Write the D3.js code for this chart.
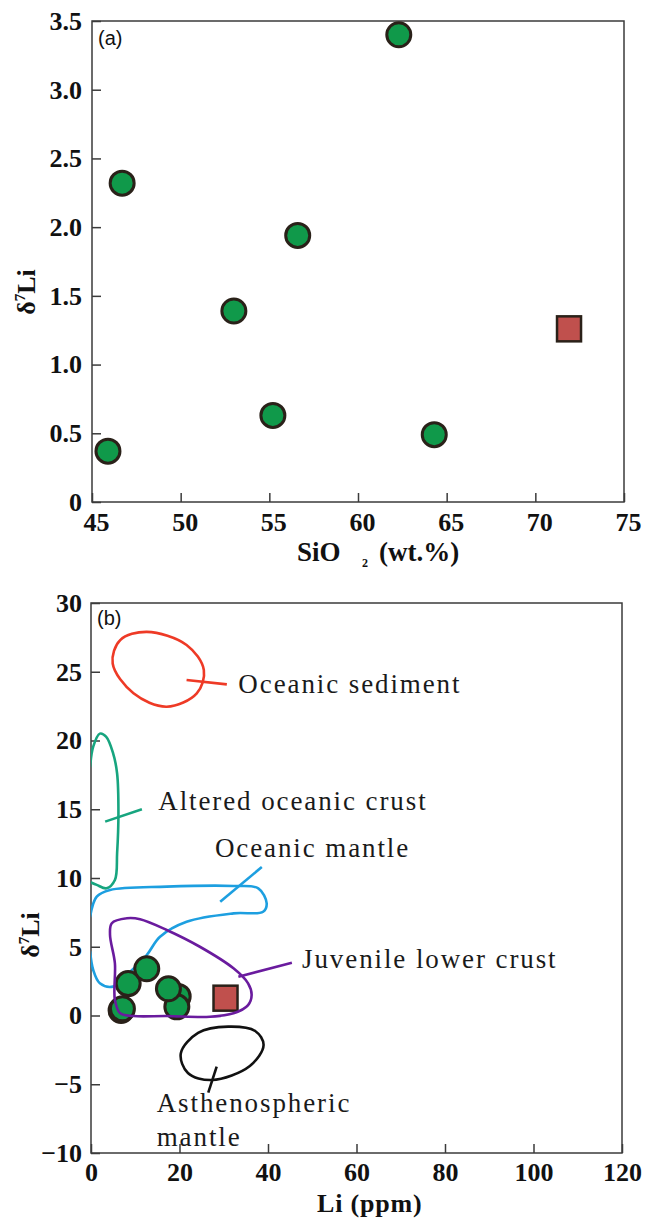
<!DOCTYPE html>
<html>
<head>
<meta charset="utf-8">
<script src="https://cdn.jsdelivr.net/npm/d3@7/dist/d3.min.js"></script>
<style>
  html, body { margin: 0; padding: 0; background: #ffffff; }
  svg { display: block; }
</style>
</head>
<body>
<script>
// ---- Sample data: mafic–intermediate rocks (circles) and granite (square) ----
const sampleSiO2 = [45.9, 46.7, 53.0, 55.2, 56.6, 62.3, 64.3];
const sampleD7Li = [0.37, 2.32, 1.39, 0.63, 1.94, 3.40, 0.49];
const sampleLi   = [6.8, 8.4, 19.7, 19.4, 17.5, 12.6, 7.1];

const graniteSiO2 = [71.9];
const graniteD7Li = [1.26];
const graniteLi   = [30.4];

// ---- Axis ticks ----
const sio2Ticks = [45, 50, 55, 60, 65, 70, 75];
const d7LiTicksA = [0, 0.5, 1.0, 1.5, 2.0, 2.5, 3.0, 3.5];
const liTicks = [0, 20, 40, 60, 80, 100, 120];
const d7LiTicksB = [-10, -5, 0, 5, 10, 15, 20, 25, 30];

// ---- Reservoir fields in Li (ppm) – δ7Li space ----
const sedimentOutline = [[12.6, 27.9], [21.6, 26.95], [25.5, 25.13], [23.9, 23.43], [17.1, 22.46], [9.6, 23.43], [4.9, 25.6], [6.6, 27.3]];
const alteredCrustOutline = [[-0.2, 18.1], [0.5, 19.55], [2.0, 20.5], [3.4, 20.28], [5.0, 19.07], [5.9, 17.6], [6.2, 14.7], [5.9, 11.8], [5.4, 9.85], [3.5, 9.25], [1.3, 9.5], [-0.2, 9.7]];
const oceanicMantleOutline = [[-0.2, 7.19], [1.3, 8.64], [4.3, 9.13], [17.1, 9.37], [32.2, 9.42], [37.8, 9.25], [39.7, 8.16], [38.9, 7.55], [32.2, 7.43], [21.6, 6.82], [15.6, 5.73], [12.6, 4.4], [8.8, 3.16], [5.0, 2.1], [2.0, 2.34], [0.5, 3.31], [-0.2, 4.64]];
const juvenileCrustOutline = [[4.7, 6.71], [8.1, 7.07], [11.1, 7.0], [17.1, 6.22], [24.6, 5.0], [32.2, 3.43], [35.5, 2.34], [36.3, 1.49], [35.5, 0.76], [32.2, 0.16], [26.9, -0.09], [17.1, -0.04], [9.6, -0.04], [6.6, 0.16], [5.4, 1.13], [5.4, 3.8], [4.3, 5.85]];
const asthenosphereOutline = [[31.0, -0.81], [37.1, -1.13], [39.0, -2.15], [35.9, -3.67], [27.3, -4.69], [21.9, -4.18], [20.3, -2.75], [24.2, -1.27]];

// Leader lines from each field to its label
const sedimentLeader = [[21.6, 24.4], [30.7, 24.08]];
const alteredCrustLeader = [[3.2, 14.1], [11.5, 15.0]];
const oceanicMantleLeader = [[29.2, 8.28], [38.6, 10.8]];
const juvenileCrustLeader = [[33.3, 2.82], [45.4, 3.84]];
const asthenosphereLeader = [[28.4, -3.72], [26.5, -5.61]];

// Field label texts and anchor points (data units)
const fieldNames = ["Oceanic sediment", "Altered oceanic crust", "Oceanic mantle", "Juvenile lower crust", "Asthenospheric", "mantle"];
const fieldLabelLi = [33.3, 15.2, 28.0, 47.7, 14.85, 14.85];
const fieldLabelD7Li = [23.45, 14.95, 11.53, 3.45, -7.0, -9.49];

// ---- Styling ----
const FRAME = "#3b3b3b";
const GREEN = "#10994a";
const SQUARE = "#c0504d";
const EDGE = "#2a2119";
const SERIF = "'Liberation Serif', 'Times New Roman', serif";
const SANS = "'Liberation Sans', Arial, sans-serif";

const svg = d3.select("body").append("svg")
  .attr("width", 656).attr("height", 1218)
  .attr("viewBox", "0 0 656 1218");

// ================= Panel (a): δ7Li vs SiO2 =================
const xA = d3.scaleLinear().domain([45, 75]).range([92, 624]);
const yA = d3.scaleLinear().domain([0, 3.5]).range([502, 21]);

const gA = svg.append("g");

gA.append("rect")
  .attr("x", xA(45)).attr("y", yA(3.5))
  .attr("width", xA(75) - xA(45)).attr("height", yA(0) - yA(3.5))
  .attr("fill", "none").attr("stroke", FRAME).attr("stroke-width", 1.5);

const axA_x = gA.append("g").attr("transform", `translate(0,${yA(0)})`)
  .call(d3.axisBottom(xA).tickValues(sio2Ticks).tickSizeInner(-9).tickSizeOuter(0).tickPadding(11).tickFormat(d3.format("d")));
const axA_y = gA.append("g").attr("transform", `translate(${xA(45)},0)`)
  .call(d3.axisLeft(yA).tickValues(d7LiTicksA).tickSizeInner(-9).tickSizeOuter(0).tickPadding(10)
    .tickFormat(d => d === 0 ? "0" : d.toFixed(1)));

[axA_x, axA_y].forEach(ax => {
  ax.select(".domain").remove();
  ax.selectAll(".tick line").attr("stroke", FRAME).attr("stroke-width", 1.5);
  ax.selectAll(".tick text")
    .attr("fill", "#111").attr("font-family", SERIF).attr("font-weight", "bold").attr("font-size", 26);
});
axA_x.selectAll(".tick text").attr("dx", 4);

gA.append("text").attr("x", xA(45) + 6).attr("y", yA(3.5) + 24)
  .attr("font-family", SANS).attr("font-size", 20).attr("fill", "#111").text("(a)");

// x-axis title with subscript
const titleA = gA.append("text").attr("y", 561)
  .attr("font-family", SERIF).attr("font-weight", "bold").attr("font-size", 27).attr("fill", "#111");
titleA.append("tspan").attr("x", 297).text("SiO");
titleA.append("tspan").attr("x", 362).attr("dy", 6).attr("font-size", 12).text("2");
titleA.append("tspan").attr("x", 379).attr("dy", -6).text("(wt.%)");

function d7LiTitle(g, x, y) {
  const t = g.append("text")
    .attr("transform", `translate(${x},${y}) rotate(-90)`)
    .attr("text-anchor", "middle")
    .attr("font-family", SERIF).attr("font-weight", "bold").attr("font-size", 26).attr("fill", "#111");
  t.append("tspan").text("δ");
  t.append("tspan").attr("dy", -10).attr("font-size", 15).text("7");
  t.append("tspan").attr("dy", 10).text("Li");
}
d7LiTitle(gA, 35, 292);

// samples
gA.selectAll("circle.sample").data(d3.range(sampleSiO2.length)).join("circle")
  .attr("class", "sample")
  .attr("cx", i => xA(sampleSiO2[i])).attr("cy", i => yA(sampleD7Li[i]))
  .attr("r", 12).attr("fill", GREEN).attr("stroke", EDGE).attr("stroke-width", 3);

gA.selectAll("rect.granite").data(d3.range(graniteSiO2.length)).join("rect")
  .attr("class", "granite")
  .attr("x", i => xA(graniteSiO2[i]) - 12).attr("y", i => yA(graniteD7Li[i]) - 12.5)
  .attr("width", 24).attr("height", 25)
  .attr("fill", SQUARE).attr("stroke", EDGE).attr("stroke-width", 2.5);

// ================= Panel (b): δ7Li vs Li =================
const xB = d3.scaleLinear().domain([0, 120]).range([91, 622]);
const yB = d3.scaleLinear().domain([-10, 30]).range([1153, 603]);

const gB = svg.append("g");

gB.append("clipPath").attr("id", "clipB").append("rect")
  .attr("x", xB(0)).attr("y", yB(30)).attr("width", xB(120) - xB(0)).attr("height", yB(-10) - yB(30));

gB.append("rect")
  .attr("x", xB(0)).attr("y", yB(30))
  .attr("width", xB(120) - xB(0)).attr("height", yB(-10) - yB(30))
  .attr("fill", "none").attr("stroke", FRAME).attr("stroke-width", 1.5);

const axB_x = gB.append("g").attr("transform", `translate(0,${yB(-10)})`)
  .call(d3.axisBottom(xB).tickValues(liTicks).tickSizeInner(-9).tickSizeOuter(0).tickPadding(10).tickFormat(d3.format("d")));
const axB_y = gB.append("g").attr("transform", `translate(${xB(0)},0)`)
  .call(d3.axisLeft(yB).tickValues(d7LiTicksB).tickSizeInner(-9).tickSizeOuter(0).tickPadding(9).tickFormat(d3.format("d")));

[axB_x, axB_y].forEach(ax => {
  ax.select(".domain").remove();
  ax.selectAll(".tick line").attr("stroke", FRAME).attr("stroke-width", 1.5);
  ax.selectAll(".tick text")
    .attr("fill", "#111").attr("font-family", SERIF).attr("font-weight", "bold").attr("font-size", 26);
});

gB.append("text").attr("x", xB(0) + 6).attr("y", yB(30) + 22)
  .attr("font-family", SANS).attr("font-size", 20).attr("fill", "#111").text("(b)");

gB.append("text").attr("x", 317).attr("y", 1212)
  .attr("font-family", SERIF).attr("font-weight", "bold").attr("font-size", 26)
  .attr("letter-spacing", 0.8).attr("fill", "#111").text("Li (ppm)");

d7LiTitle(gB, 39, 935);

const fieldLine = d3.line().x(d => xB(d[0])).y(d => yB(d[1]));
const closedField = d3.line().x(d => xB(d[0])).y(d => yB(d[1])).curve(d3.curveCatmullRomClosed.alpha(0.5));
const openField = d3.line().x(d => xB(d[0])).y(d => yB(d[1])).curve(d3.curveCatmullRom.alpha(0.5));

const fieldsLayer = gB.append("g").attr("clip-path", "url(#clipB)").attr("fill", "none")
  .attr("stroke-width", 2.6).attr("stroke-linejoin", "round").attr("stroke-linecap", "round");

function drawField(layer, outline, leader, color, closed) {
  layer.append("path").attr("d", (closed ? closedField : openField)(outline)).attr("stroke", color);
  layer.append("path").attr("d", fieldLine(leader)).attr("stroke", color).attr("stroke-linecap", "butt");
}

drawField(fieldsLayer, sedimentOutline, sedimentLeader, "#ee3a26", true);
drawField(fieldsLayer, alteredCrustOutline, alteredCrustLeader, "#17a57f", false);
drawField(fieldsLayer, oceanicMantleOutline, oceanicMantleLeader, "#1d9fe0", false);
drawField(fieldsLayer, asthenosphereOutline, asthenosphereLeader, "#111111", true);

// samples on top of the mantle fields
gB.selectAll("circle.sample").data(d3.range(sampleLi.length)).join("circle")
  .attr("class", "sample")
  .attr("cx", i => xB(sampleLi[i])).attr("cy", i => yB(sampleD7Li[i]))
  .attr("r", 12).attr("fill", GREEN).attr("stroke", EDGE).attr("stroke-width", 3);

gB.selectAll("rect.granite").data(d3.range(graniteLi.length)).join("rect")
  .attr("class", "granite")
  .attr("x", i => xB(graniteLi[i]) - 12).attr("y", i => yB(graniteD7Li[i]) - 12.5)
  .attr("width", 24).attr("height", 25)
  .attr("fill", SQUARE).attr("stroke", EDGE).attr("stroke-width", 2.5);

// juvenile lower crust outline drawn over the samples
const topLayer = gB.append("g").attr("clip-path", "url(#clipB)").attr("fill", "none")
  .attr("stroke-width", 2.6).attr("stroke-linejoin", "round").attr("stroke-linecap", "round");
drawField(topLayer, juvenileCrustOutline, juvenileCrustLeader, "#6a1b9e", true);

// field labels
gB.selectAll("text.field").data(d3.range(fieldNames.length)).join("text")
  .attr("class", "field")
  .attr("x", i => xB(fieldLabelLi[i])).attr("y", i => yB(fieldLabelD7Li[i]))
  .attr("font-family", SERIF).attr("font-size", 27).attr("letter-spacing", 1.9)
  .attr("fill", "#1a1a1a")
  .text(i => fieldNames[i]);
</script>
</body>
</html>
